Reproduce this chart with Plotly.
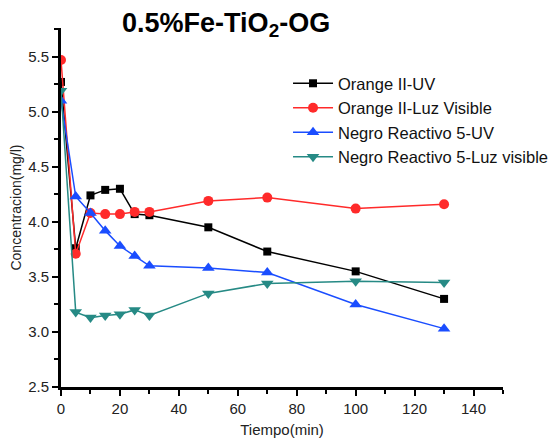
import plotly.graph_objects as go

tiempo = [0, 5, 10, 15, 20, 25, 30, 50, 70, 100, 130]
orange_uv = [5.27, 3.76, 4.24, 4.29, 4.30, 4.07, 4.06, 3.95, 3.73, 3.55, 3.30]
orange_vis = [5.47, 3.71, 4.08, 4.07, 4.07, 4.09, 4.09, 4.19, 4.22, 4.12, 4.16]
negro_uv = [5.10, 4.23, 4.08, 3.92, 3.78, 3.69, 3.60, 3.58, 3.54, 3.25, 3.03]
negro_vis = [5.19, 3.18, 3.13, 3.15, 3.16, 3.20, 3.15, 3.35, 3.44, 3.46, 3.45]

names = ["Orange II-UV", "Orange II-Luz Visible", "Negro Reactivo 5-UV", "Negro Reactivo 5-Luz visible"]
series = [orange_uv, orange_vis, negro_uv, negro_vis]
colors = ["#000000", "#ff2a2a", "#1a4dff", "#268a85"]
symbols = ["square", "circle", "triangle-up", "triangle-down"]
sizes = [8, 10, 11, 11]

fig = go.Figure()
for i, (n, s, c, sym, sz) in enumerate(zip(names, series, colors, symbols, sizes)):
    fig.add_trace(go.Scatter(
        x=tiempo, y=s, mode="lines+markers", name=n, legendgroup=f"g{i}",
        line=dict(color=c, width=1.5),
        marker=dict(symbol=sym, size=sz, color=c),
    ))

fig.update_layout(
    width=548, height=430,
    margin=dict(l=53, r=53, t=20, b=51, autoexpand=False),
    paper_bgcolor="white", plot_bgcolor="white",
    font=dict(family="Liberation Sans, Arial", size=15, color="#222"),
    title=dict(text="<b>0.5%Fe-TiO<sub>2</sub>-OG</b>", x=0.398, xanchor="center",
               y=0.967, yanchor="middle", font=dict(size=27, color="#000")),
    legend=dict(x=0.511, y=0.865, xref="container", yref="container",
                xanchor="left", yanchor="top",
                bgcolor="rgba(0,0,0,0)", font=dict(size=16.5, color="#111"),
                itemwidth=40, tracegroupgap=0),
    showlegend=True,
)
fig.update_xaxes(
    range=[0, 150], dtick=20, tick0=0, showgrid=False, zeroline=False, automargin=False,
    showline=True, linecolor="black", linewidth=3,
    ticks="outside", ticklen=6, tickwidth=2, tickcolor="black",
    minor=dict(dtick=10, ticks="outside", ticklen=4, tickwidth=2, tickcolor="black"),
    title=dict(text="Tiempo(min)", standoff=12, font=dict(size=15)),
)
fig.update_yaxes(
    range=[2.5, 5.76], dtick=0.5, tick0=2.5, tickformat=".1f", showgrid=False, zeroline=False,
    automargin=False,
    showline=True, linecolor="black", linewidth=3,
    ticks="outside", ticklen=6, tickwidth=2, tickcolor="black",
    minor=dict(dtick=0.25, ticks="outside", ticklen=4, tickwidth=2, tickcolor="black"),
    title=dict(text="Concentracion(mg/l)", standoff=8, font=dict(size=14)),
)

fig.write_html("out.html")
